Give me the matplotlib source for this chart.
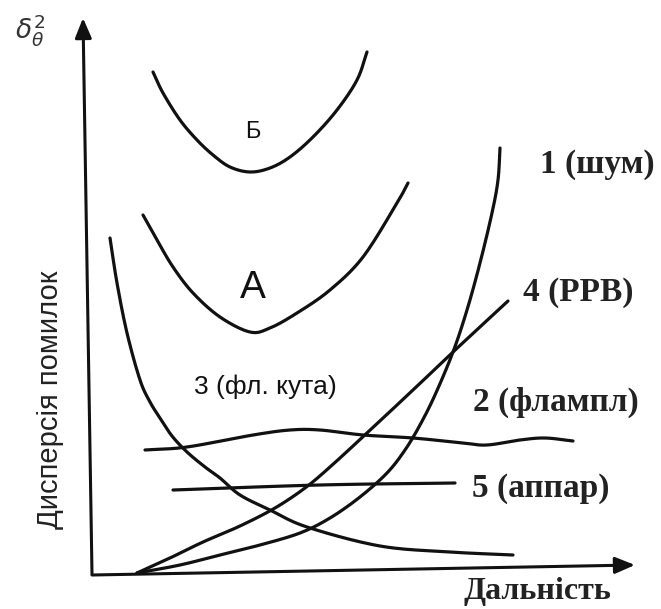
import numpy as np
import matplotlib
matplotlib.use("Agg")
import matplotlib.pyplot as plt

# Schematic error-variance curves versus range (arbitrary units, origin at axes corner)
curve_b_x = [61, 71, 88, 105, 121, 138, 158, 178, 198, 221, 245, 265, 275]
curve_b_y = [502, 481, 454, 434, 419, 407, 402, 406, 417, 437, 464, 494, 522]

curve_a_x = [51, 65, 81, 101, 128, 158, 178, 205, 238, 271, 305, 316]
curve_a_y = [359, 334, 307, 281, 257, 242, 246, 261, 284, 317, 371, 391]

angle_x = [18, 25, 35, 48, 58, 68, 80, 95, 113, 128, 148, 178, 215, 288, 358, 421]
angle_y = [336, 291, 241, 194, 172, 156, 138, 122, 107, 96, 79, 64, 47, 28, 22, 19]

ampl_x = [53, 95, 161, 198, 228, 271, 321, 371, 395, 428, 453, 481]
ampl_y = [124, 127, 139, 144, 144, 139, 136, 131, 129, 134, 136, 133]

hw_x = [81, 228, 363]
hw_y = [84, 89, 91]

prop_x = [45, 78, 111, 148, 183, 213, 238, 275, 321, 361, 416]
prop_y = [1, 16, 32, 48, 66, 86, 107, 141, 184, 222, 273]

noise_x = [45, 88, 128, 168, 208, 238, 268, 295, 313, 328, 343, 361, 375, 388, 400, 406, 408]
noise_y = [1, 9, 19, 29, 41, 56, 77, 101, 124, 149, 179, 222, 264, 311, 361, 394, 426]


def smooth(xs, ys, n=20):
    """Catmull-Rom path through the given points, for a hand-drawn look."""
    p = np.column_stack([xs, ys]).astype(float)
    if len(p) < 3:
        return p[:, 0], p[:, 1]
    ext = np.vstack([2 * p[0] - p[1], p, 2 * p[-1] - p[-2]])
    out = []
    t = np.linspace(0, 1, n, endpoint=False)[:, None]
    for i in range(1, len(ext) - 2):
        p0, p1, p2, p3 = ext[i - 1], ext[i], ext[i + 1], ext[i + 2]
        seg = 0.5 * ((2 * p1) + (-p0 + p2) * t + (2 * p0 - 5 * p1 + 4 * p2 - p3) * t ** 2
                     + (-p0 + 3 * p1 - 3 * p2 + p3) * t ** 3)
        out.append(seg)
    out.append(p[-1][None, :])
    out = np.vstack(out)
    return out[:, 0], out[:, 1]


fig = plt.figure(figsize=(6.61, 6.09), dpi=100)
ax = fig.add_axes([0, 0, 1, 1])
ax.set_xlim(-92, 569)
ax.set_ylim(-35, 574)
ax.axis("off")

ink = "#111111"
lw = 2.3
for xs, ys in [(curve_b_x, curve_b_y), (curve_a_x, curve_a_y), (angle_x, angle_y),
               (ampl_x, ampl_y), (hw_x, hw_y), (prop_x, prop_y), (noise_x, noise_y)]:
    sx, sy = smooth(xs, ys)
    ax.plot(sx, sy, color=ink, lw=lw, solid_capstyle="round", solid_joinstyle="round")

# Axes drawn as arrows
arrow = dict(arrowstyle="-|>,head_length=1.2,head_width=0.5", color=ink, lw=2.2,
             shrinkA=0, shrinkB=0)
ax.annotate("", xy=(-9, 556), xytext=(0, 0), arrowprops=arrow)
ax.annotate("", xy=(543, 9), xytext=(0, -1), arrowprops=arrow)

sans = "Liberation Sans"
serif = "Liberation Serif"

ax.text(-62, 544, r"$\delta_\theta^2$", fontsize=19, color="#333333",
        ha="center", va="center")
ax.text(-42, 174, "Дисперсія помилок", fontsize=21, family=sans, color="#222222",
        rotation=90, ha="center", va="center")
ax.text(445, -25, "Дальність", fontsize=23, family=serif, weight="bold",
        color="#222222", ha="center", va="baseline")

ax.text(161, 442, "Б", fontsize=17, family=sans, color=ink, ha="center", va="center")
ax.text(161, 286, "A", fontsize=28, family=sans, color=ink, ha="center", va="center")
ax.text(173, 187, "3 (фл. кута)", fontsize=19, family=sans, color=ink,
        ha="center", va="center")

for label, (lx, ly) in [("1 (шум)", (448, 409)), ("4 (РРВ)", (431, 281)),
                         ("2 (флампл)", (381, 172)), ("5 (аппар)", (380, 86))]:
    ax.text(lx, ly, label, fontsize=24, family=serif, weight="bold", color="#222222",
            ha="left", va="center")

fig.savefig("out.png", dpi=100)
